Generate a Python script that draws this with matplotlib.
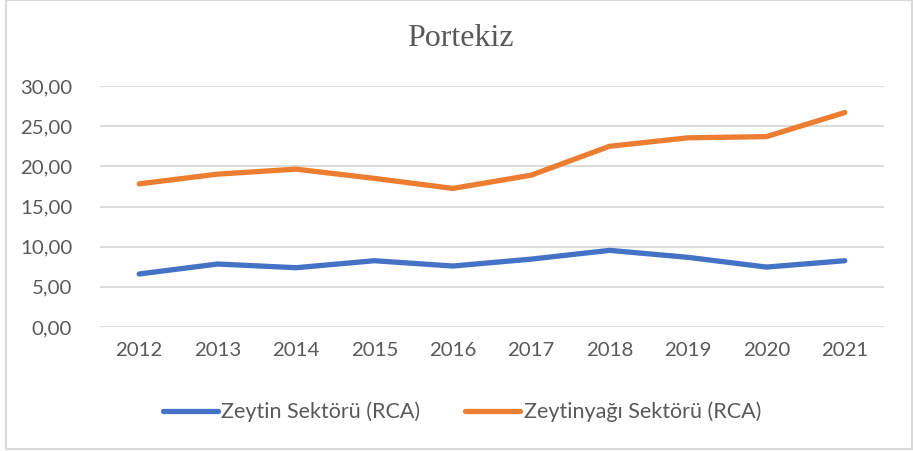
import matplotlib
matplotlib.use("Agg")
import matplotlib.pyplot as plt
from matplotlib.patches import Rectangle

years = ["2012", "2013", "2014", "2015", "2016", "2017", "2018", "2019", "2020", "2021"]
zeytin = [6.60, 7.84, 7.38, 8.25, 7.59, 8.45, 9.54, 8.67, 7.46, 8.25]
zeytinyagi = [17.82, 19.03, 19.65, 18.50, 17.25, 18.90, 22.50, 23.55, 23.70, 26.70]
series_names = ["Zeytin Sektörü (RCA)", "Zeytinyağı Sektörü (RCA)"]
yticks = [0, 5, 10, 15, 20, 25, 30]
title = "Portekiz"

W, H = 913, 451
fig = plt.figure(figsize=(W / 100, H / 100), dpi=100)
txt = "#595959"
font = ["Lato", "DejaVu Sans"]

ax = fig.add_axes([100 / W, 1 - 327 / H, (884 - 100) / W, (327 - 86) / H])
x = list(range(len(years)))
l1, = ax.plot(x, zeytin, color="#4472C4", lw=3.8, solid_capstyle="round", solid_joinstyle="round")
l2, = ax.plot(x, zeytinyagi, color="#ED7D31", lw=3.8, solid_capstyle="round", solid_joinstyle="round")
ax.set_xlim(-0.5, len(years) - 0.5)
ax.set_ylim(0, 30)
ax.set_yticks(yticks)
ax.set_yticklabels([f"{v:.2f}".replace(".", ",") for v in yticks], fontfamily=font, fontsize=14.7, color=txt)
ax.set_xticks(x)
ax.set_xticklabels(years, fontfamily=font, fontsize=14.7, color=txt)
ax.tick_params(axis="y", length=0, pad=20)
ax.tick_params(axis="x", length=0, pad=11)
ax.grid(axis="y", color="#D9D9D9", lw=1.3)
ax.set_axisbelow(True)
for s in ax.spines.values():
    s.set_visible(False)
l1.set_zorder(3)
l2.set_zorder(3)

fig.text(460 / W, 1 - 38 / H, title, ha="center", va="center",
         fontfamily="Liberation Serif", fontsize=23, color=txt)

leg = fig.legend([l1, l2], series_names, loc="center", bbox_to_anchor=(462 / W, 1 - 412 / H),
                 ncol=2, frameon=False, prop={"family": font, "size": 15.5},
                 handlelength=2.55, handletextpad=0.15, columnspacing=2.1, labelcolor=txt)

fig.patches.append(Rectangle((6 / W, 2 / H), (912 - 6) / W, (H - 2) / H, transform=fig.transFigure,
                             fill=False, edgecolor="#D9D9D9", lw=1.5))

fig.savefig("out.png", dpi=100)
